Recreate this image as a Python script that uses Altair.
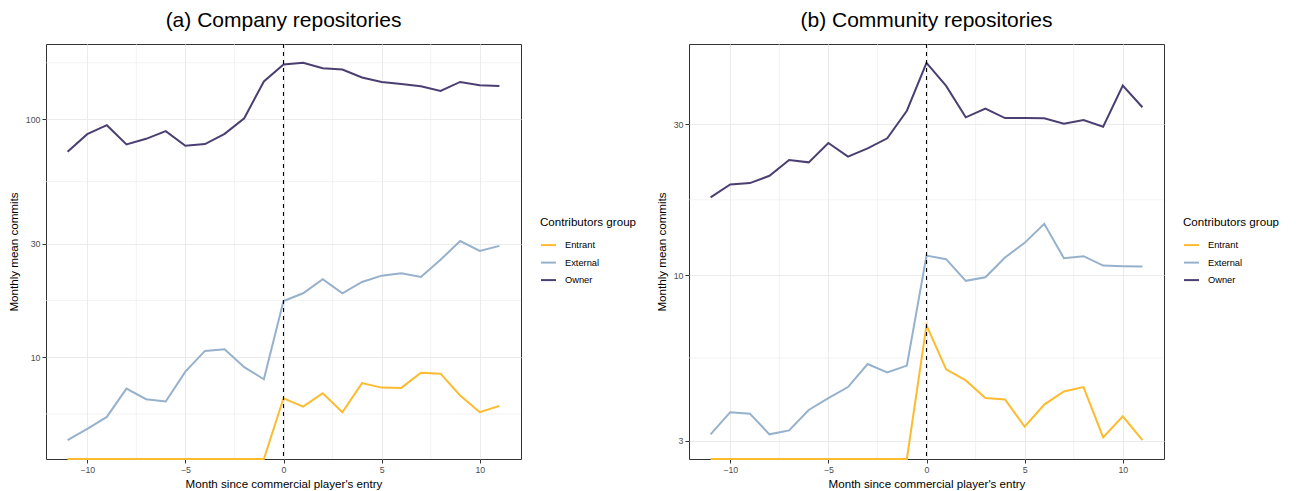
import math

import altair as alt
import pandas as pd

# Monthly mean commits around the commercial player's entry (month 0).
months = list(range(-11, 12))
groups = ["Entrant", "External", "Owner"]
group_colors = ["#FDBB2F", "#96B1CC", "#4B3F72"]

company_entrant = [0, 0, 0, 0, 0, 0, 0, 0, 0, 0, 0,
                   6.72, 6.20, 7.06, 5.87, 7.78, 7.45, 7.43, 8.61, 8.53, 6.90, 5.87, 6.24]
company_external = [4.48, 5.00, 5.61, 7.38, 6.66, 6.51, 8.70, 10.63, 10.80, 9.08, 8.08,
                    17.24, 18.58, 21.27, 18.58, 20.72, 22.03, 22.54, 21.74, 25.70, 30.80, 28.00, 29.40]
company_owner = [73.1, 86.7, 94.6, 78.5, 82.9, 89.3, 77.5, 78.8, 87.0, 101.2, 144.5,
                 170.2, 173.0, 164.3, 162.2, 150.1, 143.8, 141.1, 138.0, 131.9, 143.8, 139.4, 138.4]

community_entrant = [0, 0, 0, 0, 0, 0, 0, 0, 0, 0, 0,
                     6.94, 5.04, 4.65, 4.09, 4.05, 3.32, 3.90, 4.29, 4.43, 3.07, 3.58, 3.01]
community_external = [3.14, 3.69, 3.65, 3.14, 3.23, 3.75, 4.09, 4.43, 5.24, 4.93, 5.18,
                      11.54, 11.24, 9.60, 9.85, 11.38, 12.66, 14.54, 11.32, 11.49, 10.73, 10.68, 10.65]
community_owner = [17.63, 19.38, 19.56, 20.63, 23.13, 22.75, 26.19, 23.71, 25.19, 27.10, 33.13,
                   46.95, 39.70, 31.58, 33.65, 31.40, 31.40, 31.35, 30.14, 30.97, 29.50, 39.78, 33.98]

company_ticks = [10, 30, 100]
community_ticks = [3, 10, 30]
month_ticks = [-10, -5, 0, 5, 10]
entry_month = [0]

FONT = "Liberation Sans"
PLOT_W, PLOT_H = 475, 415
GRID = "#EBEBEB"


def expand(lo, hi, frac=0.05):
    pad = (hi - lo) * frac
    return [lo - pad, hi + pad]


def minor_between(major):
    # midpoints between neighbouring breaks, extended by one step on both sides
    step = major[1] - major[0]
    ext = [major[0] - step] + list(major) + [major[-1] + step]
    return [(a + b) / 2 for a, b in zip(ext[:-1], ext[1:])]


def panel(title, entrant, external, owner, ticks):
    series = {"Entrant": entrant, "External": external, "Owner": owner}
    rows = []
    for g in groups:
        for m, v in zip(months, series[g]):
            rows.append({"month": m, "commits": v, "group": g})
    df = pd.DataFrame(rows)

    logs = [math.log10(v) for g in groups for v in series[g] if v > 0]
    y_dom = expand(min(logs), max(logs))
    x_dom = expand(min(months), max(months))

    major_y = [math.log10(t) for t in ticks]
    minor_y = [p for p in minor_between(major_y) if y_dom[0] <= p <= y_dom[1]]
    minor_x = [p for p in minor_between(month_ticks) if x_dom[0] <= p <= x_dom[1]]

    xscale = alt.Scale(domain=x_dom, nice=False, zero=False)
    yscale = alt.Scale(domain=y_dom, nice=False, zero=False)
    xaxis = alt.Axis(values=month_ticks, title="Month since commercial player's entry",
                     format="d", titlePadding=5)
    yaxis = alt.Axis(values=major_y, title="Monthly mean commits",
                     labelExpr="format(pow(10, datum.value), '.0f')", titlePadding=6)

    hgrid = alt.Chart(pd.DataFrame({"logc": minor_y})).mark_rule(
        color=GRID, strokeWidth=0.6
    ).encode(y=alt.Y("logc:Q", scale=yscale, axis=yaxis))
    vgrid = alt.Chart(pd.DataFrame({"month": minor_x})).mark_rule(
        color=GRID, strokeWidth=0.6
    ).encode(x=alt.X("month:Q", scale=xscale, axis=xaxis))

    lines = alt.Chart(df).transform_calculate(
        # zero commits sit on the lower edge of the log axis
        logc=f"datum.commits > 0 ? max(log(datum.commits) / LN10, {y_dom[0]}) : {y_dom[0]}"
    ).mark_line(strokeWidth=2).encode(
        x=alt.X("month:Q", scale=xscale, axis=xaxis),
        y=alt.Y("logc:Q", scale=yscale, axis=yaxis),
        color=alt.Color(
            "group:N",
            scale=alt.Scale(domain=groups, range=group_colors),
            legend=alt.Legend(title="Contributors group", orient="none",
                              legendX=PLOT_W + 19, legendY=173),
        ),
        order="month:Q",
    )

    vline = alt.Chart(pd.DataFrame({"month": entry_month})).mark_rule(
        color="black", strokeWidth=1.1, strokeDash=[4, 4]
    ).encode(x=alt.X("month:Q", scale=xscale, axis=xaxis))

    return alt.layer(hgrid, vgrid, lines, vline).properties(
        width=PLOT_W,
        height=PLOT_H,
        title=alt.TitleParams(title, fontSize=21, font=FONT, fontWeight="normal",
                              anchor="middle", frame="group", baseline="alphabetic",
                              offset=-5, color="black"),
    )


left = panel("(a) Company repositories", company_entrant, company_external,
             company_owner, company_ticks)
right = panel("(b) Community repositories", community_entrant, community_external,
              community_owner, community_ticks)

chart = alt.hconcat(left, right, spacing=17).resolve_scale(
    x="independent", y="independent", color="independent"
).resolve_legend(color="independent").properties(
    padding={"left": 7, "top": 9, "right": 5, "bottom": 0},
    background="white",
).configure(font=FONT).configure_view(
    stroke="#333333", strokeWidth=1
).configure_axis(
    domain=False,
    grid=True, gridColor=GRID, gridWidth=1,
    tickColor="#333333", tickSize=4, tickWidth=1,
    labelFont=FONT, labelFontSize=8.8, labelColor="#4D4D4D", labelPadding=2,
    titleFont=FONT, titleFontSize=11.6, titleColor="black", titleFontWeight="normal",
).configure_legend(
    titleFont=FONT, titleFontSize=11.6, titleFontWeight="normal", titleColor="black",
    labelFont=FONT, labelFontSize=9.3, labelColor="black",
    symbolType="stroke", symbolSize=225, symbolStrokeWidth=2,
    labelOffset=8, rowPadding=3.5, titlePadding=8, padding=0,
)

chart.save("out.html", embed_options={"renderer": "svg", "actions": False})
